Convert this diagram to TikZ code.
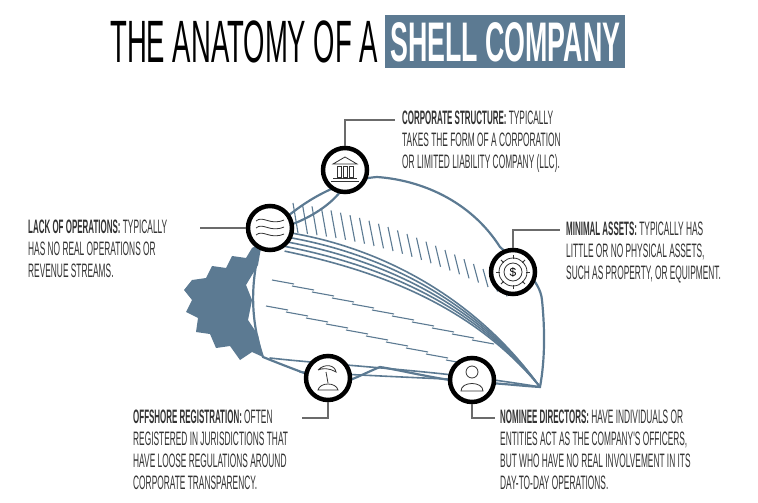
\documentclass[tikz,border=0pt]{standalone}
\usepackage{fontspec}
\setmainfont{Liberation Sans}
\newfontfamily\hfont[FakeStretch=0.41]{Liberation Sans Bold}
\newfontfamily\bfont[FakeStretch=0.43]{Liberation Sans}
\newfontfamily\tfont[FakeStretch=0.46]{Liberation Sans}
\newfontfamily\tbfont[FakeStretch=0.48]{Liberation Sans Bold}
\definecolor{shell}{HTML}{5C7A92}
\definecolor{txt}{HTML}{333333}
\definecolor{lin}{HTML}{6B6B6B}
\begin{document}
\begin{tikzpicture}[x=1bp,y=-1bp,
  ring/.style={circle,draw=black,line width=4.5pt,fill=white,minimum size=44bp,inner sep=0pt},
  lbl/.style={anchor=north west,align=left,inner sep=0pt,text=txt,font=\bfont\fontsize{19.5}{22}\selectfont},
  conn/.style={draw=lin,line width=1.2pt},
  sh/.style={draw=shell,line width=2.2pt,line cap=round}]
\useasboundingbox (0,0) rectangle (758,503);
% title
\node[anchor=west,inner sep=0pt,font=\tfont\fontsize{60}{60}\selectfont] (t1) at (110,42) {THE ANATOMY OF A};
\fill[shell] (385,15) rectangle (625,68);
\node[anchor=west,inner sep=0pt,text=white,font=\tbfont\fontsize{56}{56}\selectfont] (t2) at (390,42) {SHELL COMPANY};
% shell body
\draw[sh,fill=white] (262,240) .. controls (300,200) and (340,180) .. (377,177)
  .. controls (420,180) and (470,200) .. (500,247)
  .. controls (520,265) and (540,280) .. (542,300)
  .. controls (545,330) and (545,360) .. (540,387)
  .. controls (510,385) and (490,382) .. (473,383)
  .. controls (440,380) and (400,370) .. (380,367)
  .. controls (360,375) and (345,385) .. (330,383)
  .. controls (310,375) and (290,368) .. (263,357)
  .. controls (250,320) and (250,280) .. (262,240) -- cycle;
% spire
\fill[shell] (262,242) -- (252,248) -- (246,258) -- (232,256) -- (226,268) -- (212,266) -- (206,278) -- (192,280) -- (184,290) -- (192,300) -- (186,312) -- (198,318) -- (196,332) -- (210,334) -- (216,348) -- (230,346) -- (240,360) -- (252,352) -- (263,357) -- (258,335) -- (248,320) -- (252,300) -- (246,285) -- (258,265) -- cycle;
% ribs
\foreach \d in {0,6,12,18,24}{
  \draw[sh,line width=1.6pt] (285,{232+\d*0.8}) .. controls (370,{245+\d}) and (470,{290+\d*0.5}) .. (540,387);}
% lower lip lines
\draw[sh,line width=1.6pt] (270,358) .. controls (330,365) and (440,370) .. (540,387);
\draw[sh,line width=1.6pt] (300,372) .. controls (360,375) and (420,378) .. (470,380);
% fringe hatch
\foreach \i in {0,...,22}{
  \pgfmathsetmacro\xa{298+\i*9.5}
  \pgfmathsetmacro\ya{233+\i*\i*0.09+\i*0.9}
  \pgfmathsetmacro\ln{30-\i*0.6}
  \draw[shell,line width=1.1pt] (\xa,\ya) -- ({\xa-5},{\ya-\ln});}
\foreach \i in {0,...,10}{
  \pgfmathsetmacro\xa{272+\i*20}
  \pgfmathsetmacro\ya{280+\i*6}
  \draw[shell,line width=1.1pt] (\xa,\ya) -- ({\xa+22},{\ya+4});
  \draw[shell,line width=1.1pt] ({\xa-6},{\ya+26}) -- ({\xa+16},{\ya+30});}
\draw[sh] (290,225) .. controls (310,218) and (330,205) .. (340,192);
% circles
\node[ring] (c1) at (345,170) {};
\node[ring] (c2) at (270,228) {};
\node[ring] (c3) at (513,272) {};
\node[ring] (c4) at (328,378) {};
\node[ring] (c5) at (472,380) {};
% icons
\begin{scope}[line width=0.8pt,draw=txt]
 \draw (333,164) -- (345,157) -- (357,164) -- cycle;
 \foreach \x in {337,343,349}{\draw (\x,166) rectangle (\x+4,177);}
 \draw (333,178) -- (357,178) (331,181) -- (359,181);
 \foreach \y in {221,228,235}{\draw (256,\y) .. controls (263,\y-6) and (270,\y+5) .. (284,\y-1);}
 \draw (513,272) circle (9); \node[font=\fontsize{12}{12}\selectfont] at (513,272) {\$};
 \foreach \a in {0,45,...,315}{\draw ({513+13*cos(\a)},{272+13*sin(\a)}) -- ({513+17*cos(\a)},{272+17*sin(\a)});}
 \draw (513,272) circle (14);
 \draw (318,390) .. controls (320,382) and (336,382) .. (338,390) -- cycle;
 \draw (328,383) -- (326,372); \draw (318,370) .. controls (325,363) and (335,365) .. (336,372) .. controls (330,368) and (322,368) .. (318,370);
 \draw (472,372) circle (6);
 \draw (461,391) .. controls (461,381) and (483,381) .. (483,391) -- cycle;
\end{scope}
% connectors
\coordinate (e1) at (395,120); \coordinate (e2) at (200,228); \coordinate (e3) at (560,230);
\coordinate (e4) at (302,418); \coordinate (e5) at (495,418);
\draw[conn] (c1.north) |- (e1);
\draw[conn] (c2.west) -- (e2);
\draw[conn] (c3.north) |- (e3);
\draw[conn] (c4.south) |- (e4);
\draw[conn] (c5.south) |- (e5);
% labels
\node[lbl] (l1) at (402,111) {{\hfont CORPORATE STRUCTURE:} TYPICALLY\\TAKES THE FORM OF A CORPORATION\\OR LIMITED LIABILITY COMPANY (LLC).};
\node[lbl] (l2) at (28,220) {{\hfont LACK OF OPERATIONS:} TYPICALLY\\HAS NO REAL OPERATIONS OR\\REVENUE STREAMS.};
\node[lbl] (l3) at (566,222) {{\hfont MINIMAL ASSETS:} TYPICALLY HAS\\LITTLE OR NO PHYSICAL ASSETS,\\SUCH AS PROPERTY, OR EQUIPMENT.};
\node[lbl] (l4) at (133,410) {{\hfont OFFSHORE REGISTRATION:} OFTEN\\REGISTERED IN JURISDICTIONS THAT\\HAVE LOOSE REGULATIONS AROUND\\CORPORATE TRANSPARENCY.};
\node[lbl] (l5) at (500,410) {{\hfont NOMINEE DIRECTORS:} HAVE INDIVIDUALS OR\\ENTITIES ACT AS THE COMPANY'S OFFICERS,\\BUT WHO HAVE NO REAL INVOLVEMENT IN ITS\\DAY-TO-DAY OPERATIONS.};
\end{tikzpicture}
\end{document}
